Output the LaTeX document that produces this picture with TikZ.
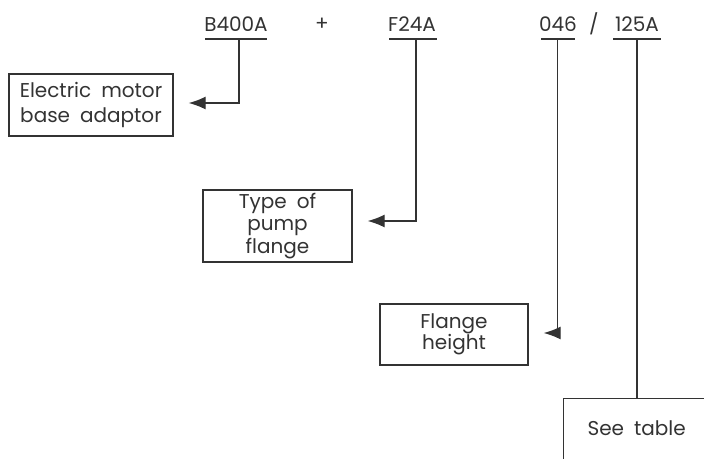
\documentclass[tikz,border=0pt]{standalone}
\usepackage{fontspec}
\setmainfont{Poppins}
\usetikzlibrary{arrows.meta}
\definecolor{ink}{HTML}{333333}
\tikzset{
  code/.style={inner sep=0pt, font=\fontsize{20}{22}\selectfont, text=ink},
  box/.style={draw=ink, line width=1.3pt, inner sep=0pt, text=ink, align=center},
  uline/.style={draw=ink, line width=1.3pt},
  conn/.style={draw=ink, line width=1.3pt},
  pointer/.style={conn, -{Latex[length=17pt,width=13pt]}, shorten >=15pt}
}
\begin{document}
\begin{tikzpicture}[x=1pt,y=-1pt]
\useasboundingbox (0,0) rectangle (704,458);
% codes
\node[code] (c1) at (236,24) {B400A};
\node[code] (plus) at (322,24) {+};
\node[code] (c2) at (412,24) {F24A};
\node[code] (c3) at (558,24) {046};
\node[code] (slash) at (594,24) {/};
\node[code] (c4) at (637,24) {125A};
% underlines
\coordinate (u1a) at (205,39); \coordinate (u1b) at (267,39);
\coordinate (u2a) at (389,39); \coordinate (u2b) at (437,39);
\coordinate (u3a) at (541,39); \coordinate (u3b) at (575,39);
\coordinate (u4a) at (613,39); \coordinate (u4b) at (661,39);
\draw[uline] (u1a) -- (u1b);
\draw[uline] (u2a) -- (u2b);
\draw[uline] (u3a) -- (u3b);
\draw[uline] (u4a) -- (u4b);
\coordinate (u1) at (239,39);
\coordinate (u2) at (416,39);
\coordinate (u3) at (557.5,39);
\coordinate (u4) at (637,39);
% boxes
\node[box, minimum width=164pt, minimum height=62pt, font=\fontsize{20}{25}\selectfont] (b1) at (91,105)
  {Electric\hspace{0.5em}motor\\base\hspace{0.5em}adaptor};
\node[box, minimum width=149pt, minimum height=72pt, font=\fontsize{20}{22.5}\selectfont] (b2) at (277.5,226)
  {Type\hspace{0.5em}of\\pump\\flange};
\node[box, minimum width=148pt, minimum height=61pt, font=\fontsize{20}{21}\selectfont] (b3) at (454,334.5)
  {Flange\\height};
\node[box, minimum width=146pt, minimum height=75pt, anchor=north west, font=\fontsize{20}{22}\selectfont] (b4) at (563,398)
  {\raisebox{16pt}{See\hspace{0.5em}table}};
% connectors
\draw[pointer] (u1) |- ([yshift=2pt]b1.east);
\draw[pointer] (u2) |- ([yshift=5pt]b2.east);
\draw[pointer] (u3) |- ([yshift=1.5pt]b3.east);
\draw[conn] (u4) -- (b4.north -| u4);
\end{tikzpicture}
\end{document}
